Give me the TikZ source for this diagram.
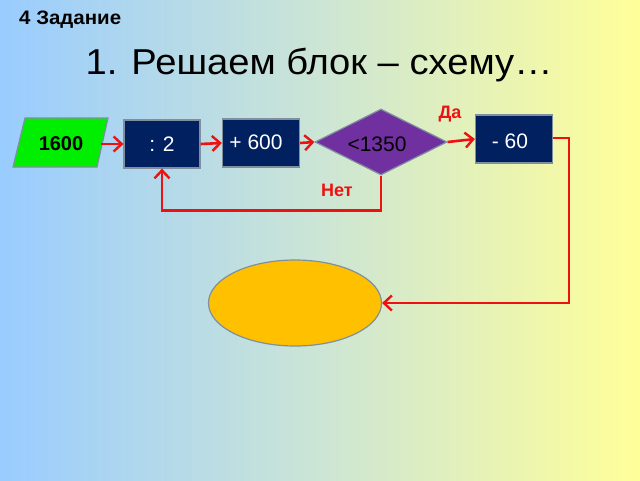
\documentclass[tikz,border=0pt]{standalone}
\usepackage{fontspec}
\setmainfont{Liberation Sans}
\usetikzlibrary{shapes.geometric,arrows.meta}
\definecolor{bgL}{HTML}{99CCFF}
\definecolor{bgM}{HTML}{CCE5D5}
\definecolor{bgR}{HTML}{FFFF99}
\definecolor{navy}{HTML}{002060}
\definecolor{purp}{HTML}{7030A0}
\definecolor{gold}{HTML}{FFC000}
\definecolor{grn}{HTML}{00EE00}
\definecolor{rd}{HTML}{EE1111}
\definecolor{edge}{HTML}{7F8F9F}
\tikzset{
  x=1pt,y=-1pt,
  box/.style={draw=edge,line width=1.2pt,fill=navy,text=white,minimum width=76pt,minimum height=48pt,inner sep=0pt,font=\fontsize{21}{23}\selectfont},
  txt/.style={font=\fontsize{21}{23}\selectfont},
  flow/.style={draw=rd,line width=2.6pt,-{Straight Barb[length=8pt,width=15pt,line width=2.4pt]}},
  lbl/.style={text=rd,font=\bfseries\fontsize{18}{20}\selectfont},
}
\begin{document}
\begin{tikzpicture}
\shade[left color=bgL,right color=bgR,middle color=bgM] (0,0) rectangle (640,480);
\useasboundingbox (0,0) rectangle (640,480);
\node[anchor=base west,font=\bfseries\fontsize{19.5}{21}\selectfont,xscale=1.05,inner sep=0pt] (hdr) at (19,24) {4 Задание};
\node[anchor=base,font=\fontsize{36}{40}\selectfont,xscale=1.06,inner sep=0pt] (title) at (319,74) {1. Решаем блок – схему…};
\filldraw[draw=edge,line width=1.2pt,fill=grn] (25,118) -- (108,118) -- (97,167) -- (13,167) -- cycle;
\node[txt,font=\bfseries\fontsize{20}{22}\selectfont,minimum width=80pt,minimum height=48pt,inner sep=0pt] (start) at (61,144) {1600};
\node[box] (div) at (162,144) {: 2};
\node[box,minimum width=77pt] (add) at (261,143) {};
\node[txt,text=white] (addt) at (256,142) {+ 600};
\node[draw=edge,line width=1.2pt,fill=purp,diamond,aspect=2,minimum width=132pt,minimum height=66pt,inner sep=0pt] (cond) at (381,142) {};
\node[txt] (condt) at (377,144) {<1350};
\node[box,minimum width=77pt] (sub) at (514,139) {};
\node[txt,text=white] (subt) at (510,141) {- 60};
\node[draw=edge,line width=1.2pt,fill=gold,ellipse,minimum width=173pt,minimum height=86pt,inner sep=0pt] (end) at (295,303) {};
\node[lbl] (yes) at (450,114) {Да};
\node[lbl] (no) at (337,190) {Нет};
\draw[flow] (start.east) -- (div.west);
\draw[flow] (div.east) -- (add.west);
\draw[flow] (add.east) -- (cond.west);
\draw[flow] (cond.east) -- (sub.west);
\draw[flow] (cond.south) -- ++(0,35) -| (div.south);
\draw[flow] (sub.east) ++(0,-1) -- ++(16,0) |- (end.east);
\end{tikzpicture}
\end{document}
